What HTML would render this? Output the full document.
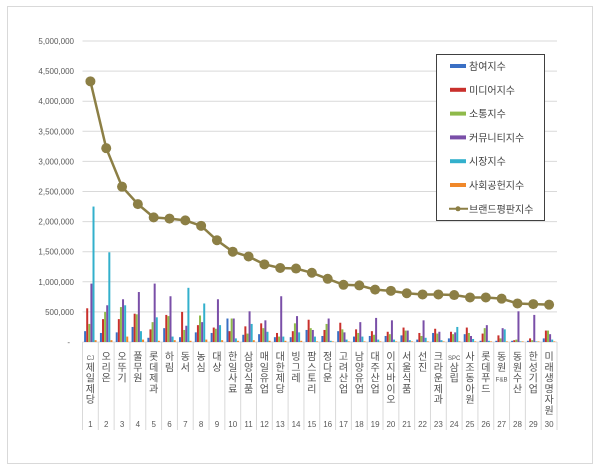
<!DOCTYPE html>
<html><head><meta charset="utf-8"><style>
html,body{margin:0;padding:0;background:#fff;}
svg{display:block;font-family:"Liberation Sans","Noto Sans CJK KR",sans-serif;}
</style></head><body>
<svg id="c" width="600" height="470" xmlns="http://www.w3.org/2000/svg"></svg>
<script>
const s=document.getElementById('c');let h='';
h+='<rect x="7.5" y="6.5" width="585" height="457" fill="#fff" stroke="#d9d9d9"/>';
const y0=342,pm=60.2/1e6,L=82.5,R=557,st=(R-L)/30;
const Y=v=>y0-v*pm;
const yl=['-','500,000','1,000,000','1,500,000','2,000,000','2,500,000','3,000,000','3,500,000','4,000,000','4,500,000','5,000,000'];
for(let i=0;i<=10;i++){const y=Y(i*5e5);
 if(i>0)h+=`<line x1="${L}" x2="${R}" y1="${y}" y2="${y}" stroke="#d9d9d9"/>`;
 h+=`<text x="${i==0?70:74}" y="${y+3}" font-size="8" fill="#595959" text-anchor="end">${yl[i]}</text>`;}
h+=`<line x1="${L}" x2="${R}" y1="${y0}" y2="${y0}" stroke="#d9d9d9"/>`;
const names=[['CJ','제','일','제','당'],'오리온','오뚜기','풀무원','롯데제과','하림','동서','농심','대상','한일사료','삼양식품','매일유업','대한제당','빙그레','팜스토리','정다운','고려산업','남양유업','대주산업','이지바이오','서울식품','선진','크라운제과',['SPC','삼','립'],'사조동아원','롯데푸드',['동','원','F&amp;B'],'동원수산','한성기업','미래생명자원'];
const bars=[[180,560,300,970,2250,30],[150,380,500,610,1490,30],[160,380,580,710,610,90],[250,470,460,830,180,40],[70,210,330,970,410,20],[230,450,430,760,90,30],[80,500,200,270,900,20],[160,280,440,330,640,40],[150,240,220,710,280,30],[390,180,390,390,60,20],[120,260,140,510,300,30],[130,310,230,360,170,20],[80,150,90,760,90,20],[80,180,310,430,160,20],[200,370,230,200,90,10],[100,200,300,390,20,10],[180,320,210,160,40,10],[90,210,150,330,90,10],[100,180,120,400,40,10],[100,170,130,360,40,10],[110,240,190,190,30,10],[40,150,100,360,70,10],[150,220,140,170,30,10],[60,170,130,160,250,10],[130,240,150,100,50,10],[20,140,230,280,20,10],[20,110,60,230,210,10],[20,30,40,510,10,10],[20,60,30,450,10,10],[60,190,190,130,40,10]];
const cols=['#3a6fc4','#c9302c','#8fba4a','#7a4fa8','#33b0cc','#f0882a'];
const brand=[4.33,3.22,2.58,2.29,2.07,2.05,2.02,1.93,1.69,1.50,1.42,1.29,1.23,1.22,1.15,1.05,0.95,0.94,0.87,0.85,0.81,0.79,0.79,0.78,0.74,0.74,0.72,0.64,0.63,0.62];
for(let i=0;i<=30;i++){const x=L+i*st;h+=`<line x1="${x}" x2="${x}" y1="${y0}" y2="430" stroke="#d9d9d9"/>`;}
for(let i=0;i<30;i++){const cx=L+(i+0.5)*st;
 bars[i].forEach((v,j)=>{const x=cx-6.3+j*2.1;h+=`<rect x="${x}" y="${Y(v*1000)}" width="2" height="${v*1000*pm}" fill="${cols[j]}"/>`;});
 const chs=Array.isArray(names[i])?names[i]:names[i].split('');
 chs.forEach((c,k)=>{const lat=/[A-Z]/.test(c);
  h+=`<text x="${cx}" y="${360+k*10.8}" font-size="${lat?6:10}" fill="#505050" text-anchor="middle">${c}</text>`;});
 h+=`<text x="${cx}" y="427" font-size="8" fill="#595959" text-anchor="middle">${i+1}</text>`;}
let p=brand.map((v,i)=>`${L+(i+0.5)*st},${Y(v*1e6)}`).join(' ');
h+=`<polyline points="${p}" fill="none" stroke="#8c7f45" stroke-width="2.5"/>`;
brand.forEach((v,i)=>{h+=`<circle cx="${L+(i+0.5)*st}" cy="${Y(v*1e6)}" r="5" fill="#8c7f45"/>`;});
h+='<rect x="436.5" y="54.5" width="108" height="166" fill="#fff" stroke="#404040"/>';
const ln=['참여지수','미디어지수','소통지수','커뮤니티지수','시장지수','사회공헌지수','브랜드평판지수'];
ln.forEach((t,i)=>{const y=66+i*23.8;
 if(i<6)h+=`<rect x="450" y="${y-2}" width="16" height="4" fill="${cols[i]}"/>`;
 else{h+=`<line x1="449" x2="468" y1="${y}" y2="${y}" stroke="#8c7f45" stroke-width="2"/><circle cx="458" cy="${y}" r="2.5" fill="#8c7f45"/>`;}
 h+=`<text x="469" y="${y+4}" font-size="10" fill="#404040">${t}</text>`;});
s.innerHTML=h;
</script>
</body></html>
